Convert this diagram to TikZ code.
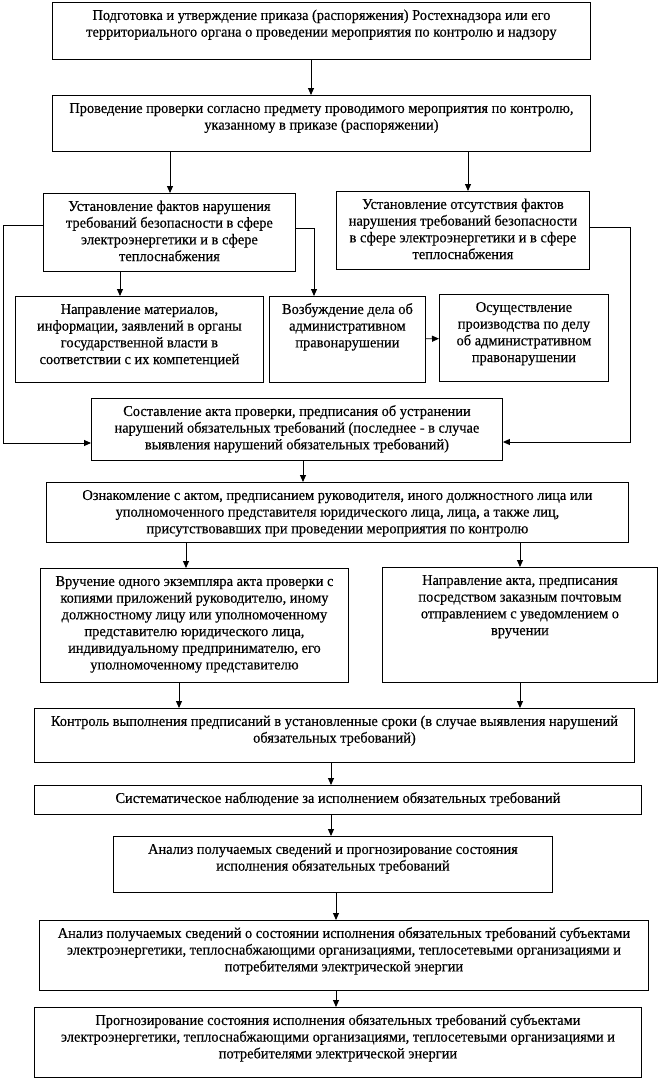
\documentclass[tikz,border=0pt]{standalone}
\usepackage{fontspec}
\setmainfont{Liberation Serif}[FakeStretch=0.96,FakeBold=0.4]
\usetikzlibrary{arrows.meta}
\newcommand\bx[6]{\node[box] (#1) at (#2,#3) {\parbox[c][#5pt][t]{#4pt}{\centering\rule{0pt}{17.5pt}#6\par}};}
\begin{document}
\begin{tikzpicture}[x=1pt,y=-1pt,
  box/.style={draw, line width=0.9pt, inner sep=0pt, anchor=north west, font=\fontsize{15pt}{16.7pt}\selectfont},
  arr/.style={line width=0.9pt, -{Triangle[length=7pt,width=6pt]}},
  ln/.style={line width=0.9pt}]
\useasboundingbox (0,0) rectangle (659,1081);
\bx{b1}{52}{2}{538}{57}{Подготовка и утверждение приказа (распоряжения) Ростехнадзора или его\\территориального органа о проведении мероприятия по контролю и надзору}
\bx{b2}{52}{95}{538}{56}{Проведение проверки согласно предмету проводимого мероприятия по контролю,\\указанному в приказе (распоряжении)}
\bx{b3l}{43}{193}{252}{78}{Установление фактов нарушения\\требований безопасности в сфере\\электроэнергетики и в сфере\\теплоснабжения}
\bx{b3r}{336}{191}{253}{78}{Установление отсутствия фактов\\нарушения требований безопасности\\в сфере электроэнергетики и в сфере\\теплоснабжения}
\bx{b4l}{15}{296}{248}{86}{Направление материалов,\\информации, заявлений в органы\\государственной власти в\\соответствии с их компетенцией}
\bx{b4m}{269}{296}{156}{86}{Возбуждение дела об\\административном\\правонарушении}
\bx{b4r}{439}{294}{169}{87}{Осуществление\\производства по делу\\об административном\\правонарушении}
\bx{b5}{91}{398}{411}{62}{Составление акта проверки, предписания об устранении\\нарушений обязательных требований (последнее - в случае\\выявления нарушений обязательных требований)}
\bx{b6}{46}{482}{582}{60}{Ознакомление с актом, предписанием руководителя, иного должностного лица или\\уполномоченного представителя юридического лица, лица, а также лиц,\\присутствовавших при проведении мероприятия по контролю}
\bx{b7l}{40}{568}{308}{114}{Вручение одного экземпляра акта проверки с\\копиями приложений руководителю, иному\\должностному лицу или уполномоченному\\представителю юридического лица,\\индивидуальному предпринимателю, его\\уполномоченному представителю}
\bx{b7r}{382}{567}{275}{115}{Направление акта, предписания\\посредством заказным почтовым\\отправлением с уведомлением о\\вручении}
\bx{b8}{34}{708}{600}{54}{Контроль выполнения предписаний в установленные сроки (в случае выявления нарушений\\обязательных требований)}
\bx{b9}{34}{785}{607}{29}{Систематическое наблюдение за исполнением обязательных требований}
\bx{b10}{113}{836}{439}{56}{Анализ получаемых сведений и прогнозирование состояния\\исполнения обязательных требований}
\bx{b11}{39}{920}{609}{70}{Анализ получаемых сведений о состоянии исполнения обязательных требований субъектами\\электроэнергетики, теплоснабжающими организациями, теплосетевыми организациями и\\потребителями электрической энергии}
\bx{b12}{34}{1007}{607}{70}{Прогнозирование состояния исполнения обязательных требований субъектами\\электроэнергетики, теплоснабжающими организациями, теплосетевыми организациями и\\потребителями электрической энергии}
% vertical guide coordinates
\coordinate (v311) at (311,0);
\coordinate (v170) at (170,0);
\coordinate (v468) at (468,0);
\coordinate (v120) at (120,0);
\coordinate (v303) at (303,0);
\coordinate (v186) at (186,0);
\coordinate (v520) at (520,0);
\coordinate (v179) at (179,0);
\coordinate (v331) at (331,0);
\coordinate (v336) at (336,0);
\coordinate (lA) at (3,225);
\coordinate (lB) at (3,443);
\coordinate (rA) at (630,227);
\coordinate (rB) at (630,442);
\coordinate (mA) at (314,228);
% connectors
\draw[arr] (b1.south -| v311) -- (b2.north -| v311);
\draw[arr] (b2.south -| v170) -- (b3l.north -| v170);
\draw[arr] (b2.south -| v468) -- (b3r.north -| v468);
\draw[arr] (b3l.south -| v120) -- (b4l.north -| v120);
\draw[arr] (b3l.east |- mA) -- (mA) -- (b4m.north -| mA);
\draw[arr] (b4m) -- (b4r);
\draw[arr] (b3l.west |- lA) -- (lA) -- (lB) -- (b5.west |- lB);
\draw[arr] (b3r.east |- rA) -- (rA) -- (rB) -- (b5.east |- rB);
\draw[arr] (b5.south -| v303) -- (b6.north -| v303);
\draw[arr] (b6.south -| v186) -- (b7l.north -| v186);
\draw[arr] (b6.south -| v520) -- (b7r.north -| v520);
\draw[arr] (b7l.south -| v179) -- (b8.north -| v179);
\draw[arr] (b7r.south -| v520) -- (b8.north -| v520);
\draw[arr] (b8.south -| v331) -- (b9.north -| v331);
\draw[arr] (b9.south -| v331) -- (b10.north -| v331);
\draw[arr] (b10.south -| v336) -- (b11.north -| v336);
\draw[arr] (b11.south -| v336) -- (b12.north -| v336);
\end{tikzpicture}
\end{document}
